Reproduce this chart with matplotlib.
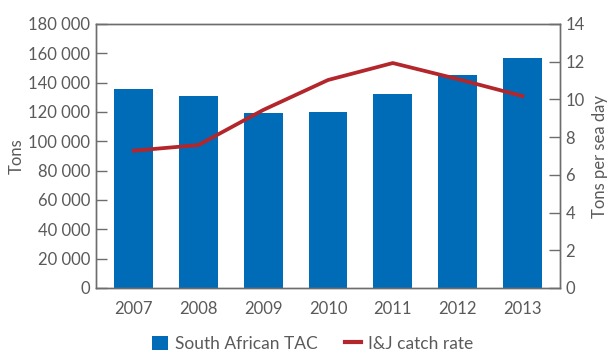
import matplotlib
matplotlib.use('Agg')
import matplotlib.pyplot as plt
from matplotlib.ticker import FuncFormatter
from matplotlib.lines import Line2D
from matplotlib.patches import Patch

plt.rcParams['font.family'] = ['Lato', 'DejaVu Sans']

# data
years = ['2007', '2008', '2009', '2010', '2011', '2012', '2013']
tac = [135700, 130900, 119300, 120000, 132300, 145200, 156800]
catch_rate = [7.28, 7.58, 9.44, 11.03, 11.93, 11.08, 10.18]

bar_color = '#006bb6'
line_color = '#b3262b'
axis_color = '#6d6d6d'
text_color = '#5a5a5a'

fig = plt.figure(figsize=(6.07, 3.55), dpi=100)
ax = fig.add_axes([96 / 607, 1 - 288 / 355, (560 - 96) / 607, (288 - 24) / 355])
ax2 = ax.twinx()

x = list(range(len(years)))
ax.bar(x, tac, width=0.6, color=bar_color, zorder=2)
ax2.plot(x, catch_rate, color=line_color, linewidth=2.7, zorder=3)

ax.set_xlim(-0.58, len(years) - 1 + 0.58)
ax.set_ylim(0, 180000)
ax.set_yticks(range(0, 180001, 20000))
ax.yaxis.set_major_formatter(FuncFormatter(lambda v, p: f'{int(v):,}'.replace(',', ' ')))
ax2.set_ylim(0, 14)
ax2.set_yticks(range(0, 15, 2))

ax.set_xticks(x)
ax.set_xticklabels(years)

for a in (ax, ax2):
    for s in a.spines.values():
        s.set_color(axis_color)
        s.set_linewidth(1.0)
    a.tick_params(axis='y', direction='in', length=8, width=1.0, color=axis_color,
                  labelcolor=text_color, labelsize=12, pad=4)
ax.tick_params(axis='x', length=0, labelcolor=text_color, labelsize=12, pad=9)

ax.set_ylabel('Tons', color=text_color, fontsize=12, labelpad=3)
ax2.set_ylabel('Tons per sea day', color=text_color, fontsize=12, labelpad=5)

handles = [Patch(facecolor=bar_color, edgecolor='none'),
           Line2D([0], [0], color=line_color, linewidth=3)]
fig.legend(handles, ['South African TAC', 'I&J catch rate'], loc='lower center',
           bbox_to_anchor=(0.515, -0.035), ncol=2, frameon=False, fontsize=12.5,
           labelcolor=text_color, handlelength=0.9, handleheight=0.9,
           columnspacing=1.6, handletextpad=0.4)

fig.savefig('out.png', dpi=100)
